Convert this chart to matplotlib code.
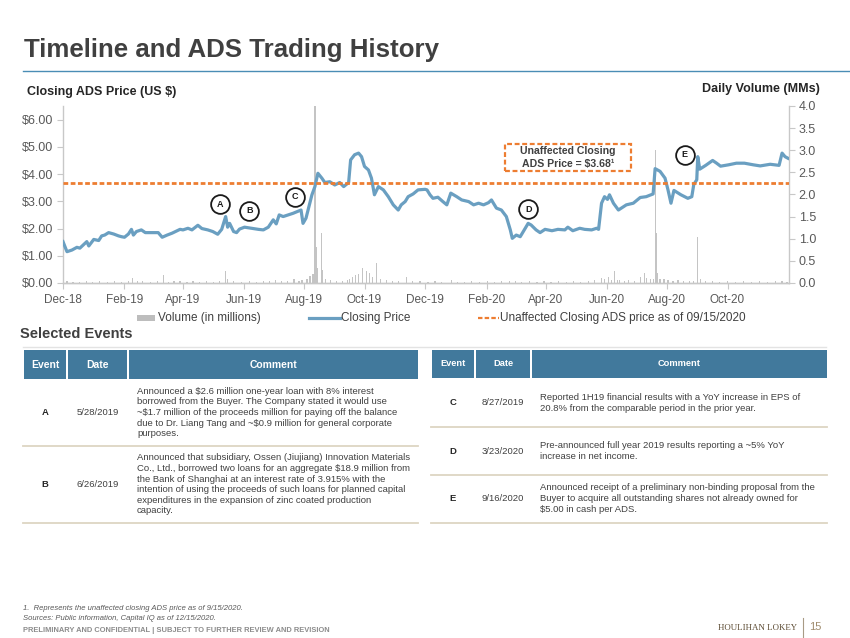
import matplotlib
matplotlib.use('Agg')
import matplotlib.pyplot as plt
from matplotlib.patches import Rectangle
from matplotlib.lines import Line2D
from matplotlib.ticker import FuncFormatter, MultipleLocator
import pandas as pd

plt.rcParams['font.family'] = ['Liberation Sans', 'DejaVu Sans']

# ---------------- data ----------------
START = '2018-12-14'
END = '2020-12-15'

# days after START
price_days = [0, 4, 9, 14, 17, 24, 26, 31, 36, 39, 42, 46, 51, 56, 59, 62, 66, 69, 71, 74,
              79, 83, 89, 96, 100, 105, 110, 115, 118, 121, 126, 130, 136, 140, 146, 151, 156, 160, 164, 166,
              168, 172, 175, 178, 183, 190, 197, 202, 207, 212, 215, 218, 222, 227, 232, 236, 240, 242, 245, 248,
              251, 254, 257, 261, 264, 269, 274, 279, 283, 288, 290, 294, 298, 301, 304, 308, 311, 314, 318, 323,
              328, 333, 338, 341, 345, 348, 353, 358, 365, 367, 370, 373, 378, 383, 387, 391, 397, 402, 409, 414,
              419, 424, 429, 432, 437, 442, 447, 451, 453, 457, 461, 466, 469, 472, 477, 481, 486, 493, 499, 506,
              509, 514, 521, 526, 533, 538, 540, 543, 546, 549, 551, 555, 560, 568, 575, 582, 588, 595, 597, 602,
              607, 610, 613, 616, 623, 630, 634, 636, 639, 640, 642, 648, 655, 659, 663, 671, 679, 687, 696, 703,
              713, 722, 725, 728, 731]
price = [1.52, 1.15, 1.21, 1.31, 1.28, 1.52, 1.36, 1.60, 1.56, 1.73, 1.76, 1.85, 1.80, 1.73, 1.70, 1.68, 1.80, 1.97, 1.76, 1.89,
         1.95, 1.85, 1.85, 1.85, 1.68, 1.76, 1.83, 1.92, 1.97, 1.95, 2.01, 1.95, 2.12, 2.00, 1.95, 1.89, 1.79, 1.97, 2.44, 2.05,
         2.19, 1.89, 1.85, 1.98, 2.05, 2.01, 1.97, 1.95, 2.05, 2.32, 2.17, 2.50, 2.44, 2.50, 2.56, 2.62, 2.68, 2.19, 2.38, 2.81,
         3.24, 3.54, 4.03, 3.85, 3.69, 3.72, 3.60, 3.69, 3.54, 3.69, 4.52, 4.71, 4.77, 4.64, 4.28, 4.15, 3.85, 3.24, 3.54, 3.42,
         3.17, 2.87, 2.68, 2.87, 2.99, 3.17, 3.27, 3.42, 3.44, 3.42, 3.24, 3.11, 3.15, 2.99, 2.87, 3.30, 3.17, 3.05, 2.99, 2.87,
         2.93, 2.87, 2.95, 3.05, 2.75, 2.68, 2.44, 1.95, 1.64, 1.76, 1.70, 2.01, 2.19, 2.13, 1.95, 1.85, 1.97, 1.92, 1.97, 1.95,
         2.05, 1.92, 2.01, 1.97, 1.95, 2.01, 1.97, 2.93, 3.17, 3.07, 3.24, 2.93, 2.68, 2.87, 2.93, 3.14, 3.17, 3.27, 4.20, 4.10,
         3.85, 3.42, 2.93, 3.40, 3.24, 3.11, 3.17, 3.62, 3.79, 4.64, 4.18, 4.32, 4.50, 4.40, 4.29, 4.34, 4.40, 4.40, 4.34, 4.30,
         4.36, 4.32, 4.77, 4.64, 4.58]

vol_days = [4, 10, 17, 24, 30, 37, 45, 52, 59, 66, 70, 75, 80, 88, 95, 101, 106, 112, 118, 125,
            131, 138, 145, 152, 158, 164, 166, 172, 180, 188, 195, 202, 208, 214, 220, 226, 233, 238, 241, 246,
            249, 252, 254, 255, 257, 261, 262, 265, 270, 276, 282, 287, 289, 292, 295, 298, 302, 306, 309, 312,
            316, 320, 326, 332, 338, 346, 352, 360, 368, 375, 382, 392, 398, 405, 412, 420, 428, 435, 442, 450,
            456, 462, 470, 478, 485, 492, 500, 508, 515, 522, 530, 536, 543, 546, 550, 553, 556, 559, 561, 566,
            570, 576, 582, 586, 588, 592, 595, 597, 598, 599, 602, 606, 610, 615, 620, 626, 632, 636, 640, 643,
            648, 655, 662, 670, 678, 686, 694, 702, 710, 718, 725, 730]
volume = [0.04, 0.03, 0.03, 0.05, 0.03, 0.04, 0.03, 0.04, 0.03, 0.05, 0.11, 0.05, 0.04, 0.03, 0.04, 0.17, 0.03, 0.04, 0.05, 0.03,
          0.04, 0.03, 0.04, 0.03, 0.04, 0.26, 0.08, 0.05, 0.03, 0.04, 0.03, 0.04, 0.05, 0.06, 0.04, 0.05, 0.09, 0.05, 0.07, 0.08,
          0.16, 0.20, 4.50, 0.82, 0.33, 1.12, 0.29, 0.10, 0.06, 0.04, 0.05, 0.06, 0.10, 0.14, 0.18, 0.20, 0.33, 0.27, 0.22, 0.14,
          0.46, 0.10, 0.06, 0.05, 0.04, 0.13, 0.05, 0.04, 0.03, 0.04, 0.03, 0.06, 0.03, 0.03, 0.04, 0.03, 0.04, 0.03, 0.04, 0.05,
          0.04, 0.03, 0.04, 0.03, 0.04, 0.03, 0.04, 0.03, 0.04, 0.03, 0.05, 0.06, 0.11, 0.08, 0.14, 0.06, 0.28, 0.07, 0.07, 0.05,
          0.07, 0.05, 0.14, 0.22, 0.12, 0.08, 0.10, 3.00, 1.13, 0.22, 0.10, 0.08, 0.06, 0.05, 0.06, 0.04, 0.05, 0.04, 1.03, 0.08,
          0.05, 0.04, 0.03, 0.04, 0.03, 0.04, 0.03, 0.04, 0.03, 0.04, 0.05, 0.03]

unaffected_price = 3.68

tick_dates = ['2018-12-14', '2019-02-14', '2019-04-14', '2019-06-14', '2019-08-14', '2019-10-14',
              '2019-12-14', '2020-02-14', '2020-04-14', '2020-06-14', '2020-08-14', '2020-10-14']
tick_labels = ['Dec-18', 'Feb-19', 'Apr-19', 'Jun-19', 'Aug-19', 'Oct-19',
               'Dec-19', 'Feb-20', 'Apr-20', 'Jun-20', 'Aug-20', 'Oct-20']

# event badges on the chart (date, price level of the badge)
badge_letters = ['A', 'B', 'C', 'D', 'E']
badge_dates = ['2019-05-21', '2019-06-20', '2019-08-05', '2020-03-27', '2020-09-01']
badge_levels = [2.90, 2.66, 3.17, 2.71, 4.71]

# tables
left_events = ['A', 'B']
left_dates = ['5/28/2019', '6/26/2019']
left_comments = [
    "Announced a $2.6 million one-year loan with 8% interest\n"
    "borrowed from the Buyer. The Company stated it would use\n"
    "~$1.7 million of the proceeds million for paying off the balance\n"
    "due to Dr. Liang Tang and ~$0.9 million for general corporate\n"
    "purposes.",
    "Announced that subsidiary, Ossen (Jiujiang) Innovation Materials\n"
    "Co., Ltd., borrowed two loans for an aggregate $18.9 million from\n"
    "the Bank of Shanghai at an interest rate of 3.915% with the\n"
    "intention of using the proceeds of such loans for planned capital\n"
    "expenditures in the expansion of zinc coated production\n"
    "capacity.",
]
right_events = ['C', 'D', 'E']
right_dates = ['8/27/2019', '3/23/2020', '9/16/2020']
right_comments = [
    "Reported 1H19 financial results with a YoY increase in EPS of\n"
    "20.8% from the comparable period in the prior year.",
    "Pre-announced full year 2019 results reporting a ~5% YoY\n"
    "increase in net income.",
    "Announced receipt of a preliminary non-binding proposal from the\n"
    "Buyer to acquire all outstanding shares not already owned for\n"
    "$5.00 in cash per ADS.",
]

# ---------------- figure ----------------
W, H = 850, 638
fig = plt.figure(figsize=(W / 100, H / 100), dpi=100)


def fx(x):
    return x / W


def fy(y):
    return 1 - y / H


TXT = '#404040'
GRID = '#C8C8C8'
BLUE = '#6A9FC1'
ORANGE = '#ED7D31'
HEAD = '#41799C'
SEP = '#DDD5C3'

start = pd.Timestamp(START)
pdates = start + pd.to_timedelta(price_days, unit='D')
vdates = start + pd.to_timedelta(vol_days, unit='D')

ax = fig.add_axes([fx(63), fy(283), (789 - 63) / W, (283 - 106) / H])
ax2 = ax.twinx()
ax.set_zorder(2)
ax2.set_zorder(1)
ax.patch.set_visible(False)

# volume
ax2.bar(vdates, volume, width=1.2, color='#C4C4C4', linewidth=0)
ax2.set_ylim(0, 4.0)
ax2.yaxis.set_major_locator(MultipleLocator(0.5))
ax2.yaxis.set_major_formatter(FuncFormatter(lambda v, p: f'{v:.1f}'))

# price
ax.plot(pdates, price, color=BLUE, lw=2.3, solid_joinstyle='round', zorder=3)
ax.axhline(unaffected_price, color=ORANGE, lw=2.0, ls=(0, (1.7, 0.9)), zorder=4)
ax.set_ylim(0, 6.5)
ax.set_yticks([0, 1, 2, 3, 4, 5, 6])
ax.yaxis.set_major_formatter(FuncFormatter(lambda v, p: f'${v:.2f}'))

ax.set_xlim(start, pd.Timestamp(END))
ax.set_xticks(pd.to_datetime(tick_dates))
ax.set_xticklabels(tick_labels)

for a in (ax, ax2):
    a.spines['top'].set_visible(False)
    for s in ('left', 'right', 'bottom'):
        a.spines[s].set_color(GRID)
        a.spines[s].set_linewidth(1.0)
ax.spines['right'].set_visible(False)
ax2.spines['left'].set_visible(False)
ax.tick_params(axis='y', length=4, color=GRID, labelsize=9, labelcolor='#595959', pad=3)
ax.tick_params(axis='x', length=4, color=GRID, labelsize=8.5, labelcolor='#595959', pad=4)
ax2.tick_params(axis='y', length=4, color=GRID, labelsize=9, labelcolor='#595959', pad=3)

# badges
for L, d, lv in zip(badge_letters, badge_dates, badge_levels):
    ax.plot(pd.Timestamp(d), lv, 'o', ms=13.5, mfc='white', mec='#1A1A1A', mew=1.3, zorder=6, clip_on=False)
    ax.text(pd.Timestamp(d), lv, L, ha='center', va='center', fontsize=6.5, fontweight='bold',
            color='#1A1A1A', zorder=7)

# callout box
fig.add_artist(Rectangle((fx(505), fy(170.7)), (631 - 505) / W, (170.7 - 144.3) / H,
                         transform=fig.transFigure, fc='none', ec=ORANGE, lw=1.6, ls=(0, (2.2, 1.2))))
fig.text(fx(568), fy(150.7), 'Unaffected Closing', ha='center', va='center', fontsize=7.6,
         fontweight='bold', color=TXT)
fig.text(fx(568), fy(164.5), 'ADS Price = $3.68\u00b9', ha='center', va='center', fontsize=7.6,
         fontweight='bold', color=TXT)

# titles
fig.text(fx(24), fy(50), 'Timeline and ADS Trading History', fontsize=18.6, fontweight='bold',
         color=TXT, va='center', ha='left')
fig.add_artist(Line2D([fx(23), fx(850)], [fy(71), fy(71)], transform=fig.transFigure,
                      color='#4A8DB5', lw=1.0))
fig.text(fx(27), fy(92), 'Closing ADS Price (US $)', fontsize=9, fontweight='bold', color='#262626',
         va='center', ha='left')
fig.text(fx(820), fy(89), 'Daily Volume (MMs)', fontsize=9, fontweight='bold', color='#262626',
         va='center', ha='right')

# legend (manual)
fig.add_artist(Rectangle((fx(137), fy(321)), 18 / W, 6 / H, transform=fig.transFigure,
                         fc='#BDBDBD', ec='none'))
fig.text(fx(158), fy(318), 'Volume (in millions)', fontsize=8.5, color='#404040', va='center')
fig.add_artist(Line2D([fx(309), fx(340)], [fy(318), fy(318)], transform=fig.transFigure,
                      color=BLUE, lw=2.3))
fig.text(fx(341), fy(318), 'Closing Price', fontsize=8.5, color='#404040', va='center')
fig.add_artist(Line2D([fx(478), fx(499)], [fy(318), fy(318)], transform=fig.transFigure,
                      color=ORANGE, lw=1.6, ls=(0, (2, 1))))
fig.text(fx(500), fy(318), 'Unaffected Closing ADS price as of 09/15/2020', fontsize=8.5,
         color='#404040', va='center')

# Selected events
fig.text(fx(20), fy(334), 'Selected Events', fontsize=10.5, fontweight='bold', color=TXT, va='center')
fig.add_artist(Line2D([fx(23), fx(826)], [fy(347), fy(347)], transform=fig.transFigure,
                      color='#E3E3E3', lw=1.0))


def rect(x0, y0, x1, y1, color):
    fig.add_artist(Rectangle((fx(x0), fy(y1)), (x1 - x0) / W, (y1 - y0) / H,
                             transform=fig.transFigure, fc=color, ec='none'))


def hline(x0, x1, y, color=SEP, lw=1.3):
    fig.add_artist(Line2D([fx(x0), fx(x1)], [fy(y), fy(y)], transform=fig.transFigure,
                          color=color, lw=lw))


def table(cols, head_y, head_fs, rows_y, events, dates, comments, body_fs, ls):
    (e0, e1), (d0, d1), (c0, c1) = cols
    for (a, b), name in zip(cols, ['Event', 'Date', 'Comment']):
        rect(a, head_y[0], b, head_y[1], HEAD)
        fig.text(fx((a + b) / 2), fy((head_y[0] + head_y[1]) / 2), name, ha='center', va='center',
                 fontsize=head_fs, fontweight='bold', color='white')
    for i in range(len(events)):
        y0, y1 = rows_y[i], rows_y[i + 1]
        yc = (y0 + y1) / 2
        fig.text(fx((e0 + e1) / 2), fy(yc), events[i], ha='center', va='center', fontsize=body_fs,
                 fontweight='bold', color='#262626')
        fig.text(fx((d0 + d1) / 2), fy(yc), dates[i], ha='center', va='center', fontsize=body_fs,
                 color=TXT)
        fig.text(fx(c0 + 8), fy(yc), comments[i], ha='left', va='center', fontsize=body_fs,
                 color=TXT, linespacing=ls)
        hline(e0 - 1, c1, y1)


table([(24, 66), (68, 127), (129, 418)], (350, 379), 7.5, [379, 446, 522.7],
      left_events, left_dates, left_comments, 6.8, 1.22)
table([(432, 474), (476, 530), (532, 827)], (350, 378), 6.7, [378, 427.3, 475, 522.7],
      right_events, right_dates, right_comments, 6.8, 1.28)

# footer
fig.text(fx(23), fy(608), '1.  Represents the unaffected closing ADS price as of 9/15/2020.',
         fontsize=5.5, style='italic', color='#595959', va='center')
fig.text(fx(23), fy(619), 'Sources: Public information, Capital IQ as of 12/15/2020.',
         fontsize=5.5, style='italic', color='#595959', va='center')
fig.text(fx(23), fy(630), 'PRELIMINARY AND CONFIDENTIAL | SUBJECT TO FURTHER REVIEW AND REVISION',
         fontsize=5.4, fontweight='bold', color='#8C8C8C', va='center')
fig.text(fx(797), fy(628), 'HOULIHAN LOKEY', fontsize=6.4, family='Liberation Serif',
         color='#5C4B33', va='center', ha='right')
fig.add_artist(Line2D([fx(803), fx(803)], [fy(618), fy(638)], transform=fig.transFigure,
                      color='#A89B85', lw=0.8))
fig.text(fx(809), fy(627), '15', fontsize=8, color='#A08C6E', va='center', ha='left')

fig.savefig('out.png', dpi=100, facecolor='white')
